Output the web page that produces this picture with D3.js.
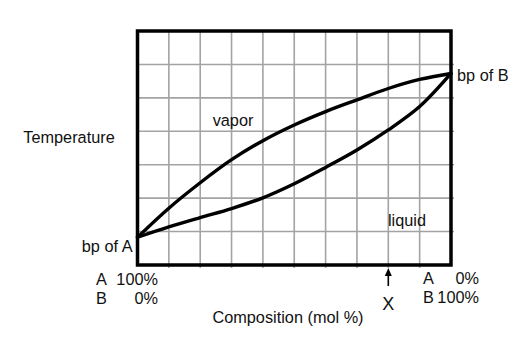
<!DOCTYPE html>
<html>
<head>
<meta charset="utf-8">
<script src="https://cdn.jsdelivr.net/npm/d3@7"></script>
<style>
  html, body { margin: 0; padding: 0; background: #fff; }
  svg { display: block; font-family: "Liberation Sans", Arial, sans-serif; }
</style>
</head>
<body>
<svg id="chart" width="519" height="340"></svg>
<script>
// Composition axis: mol % of B (0 = pure A, 100 = pure B)
const composition = [0, 10, 20, 30, 40, 50, 60, 70, 80, 90, 100];
// Temperature in grid units (each grid row = 10)
const vaporTemp  = [8.3, 17.0, 24.6, 31.5, 37.2, 41.9, 45.9, 49.4, 52.8, 55.5, 57.3];
const liquidTemp = [8.3, 11.4, 14.2, 16.9, 20.1, 24.3, 29.2, 34.4, 40.4, 47.4, 57.3];
const xGridTicks = [10, 20, 30, 40, 50, 60, 70, 80, 90];
const yGridTicks = [10, 20, 30, 40, 50, 60];
const markX = 80;

const svg = d3.select("#chart");
const plotLeft = 137.5, plotTop = 31, plotW = 313.5, plotH = 234;

const x = d3.scaleLinear().domain([0, 100]).range([plotLeft, plotLeft + plotW]);
const y = d3.scaleLinear().domain([0, 70]).range([plotTop + plotH, plotTop]);

// grid
const grid = svg.append("g").attr("stroke", "#a3a3a3").attr("stroke-width", 1.6);
grid.selectAll("line.v").data(xGridTicks).join("line")
  .attr("x1", d => x(d)).attr("x2", d => x(d))
  .attr("y1", y(70)).attr("y2", y(0) + 3);
grid.selectAll("line.h").data(yGridTicks).join("line")
  .attr("x1", x(0)).attr("x2", x(100) + 3)
  .attr("y1", d => y(d)).attr("y2", d => y(d));

// vapor and liquid curves
const line = d3.line().curve(d3.curveCatmullRom.alpha(0.5));
const curves = svg.append("g").attr("fill", "none").attr("stroke", "#000")
  .attr("stroke-width", 3.4).attr("stroke-linejoin", "round").attr("stroke-linecap", "round");
curves.append("path").attr("d", line(composition.map((c, i) => [x(c), y(vaporTemp[i])])));
curves.append("path").attr("d", line(composition.map((c, i) => [x(c), y(liquidTemp[i])])));

// frame
svg.append("rect")
  .attr("x", x(0)).attr("y", y(70))
  .attr("width", x(100) - x(0)).attr("height", y(0) - y(70))
  .attr("fill", "none").attr("stroke", "#000").attr("stroke-width", 3.5);

// labels
const txt = (s, tx, ty, anchor, size) => svg.append("text")
  .attr("x", tx).attr("y", ty).attr("text-anchor", anchor || "start")
  .attr("font-size", size || 16.3).attr("fill", "#111").text(s);

txt("Temperature", 69, 143, "middle");
txt("bp of A", x(0) - 5, 252, "end");
txt("bp of B", x(100) + 6, 81, "start");
txt("vapor", 233, 126, "middle");
txt("liquid", 407, 226, "middle");

txt("A", 96, 285);
txt("100%", 158, 285, "end");
txt("B", 96, 304);
txt("0%", 158, 304, "end");

txt("A", 423, 284);
txt("0%", 479, 284, "end");
txt("B", 423, 303);
txt("100%", 479, 303, "end");

txt("Composition (mol %)", 288, 323, "middle");

// marker arrow at composition X
const ax = x(markX);
svg.append("line").attr("x1", ax).attr("x2", ax).attr("y1", 272).attr("y2", 286)
  .attr("stroke", "#000").attr("stroke-width", 1.6);
svg.append("path")
  .attr("d", `M${ax},268 L${ax - 3.5},276 L${ax + 3.5},276 Z`).attr("fill", "#000");
txt("X", ax, 310, "middle", 18);
</script>
</body>
</html>
